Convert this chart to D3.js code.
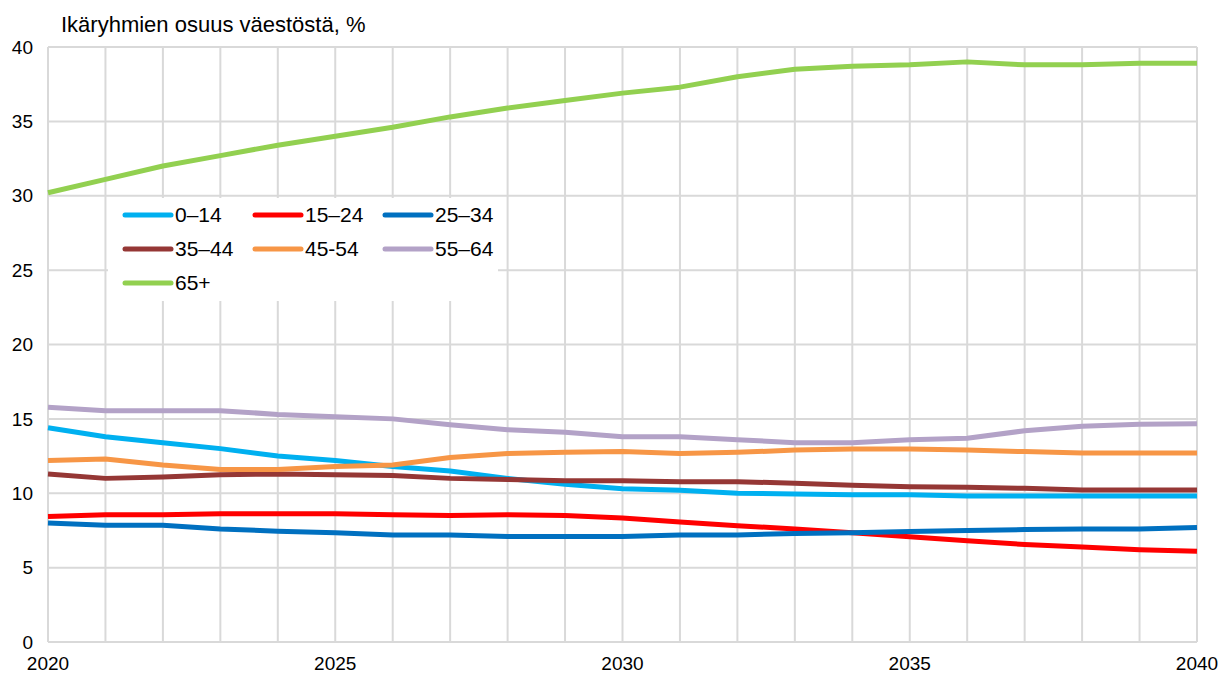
<!DOCTYPE html>
<meta charset="utf-8">
<style>
  body { margin: 0; background: #fff; }
  text { font-family: "Liberation Sans", Arial, sans-serif; fill: #000; }
</style>

<!-- Load d3.js -->
<script src="https://d3js.org/d3.v7.min.js"></script>

<div id="my_dataviz"></div>

<script>

// years on the x axis
var years = d3.range(2020, 2041);

// share of population by age group, %
var age0_14  = [14.4, 13.8, 13.4, 13.0, 12.5, 12.2, 11.8, 11.5, 11.0, 10.6, 10.3, 10.2, 10.0, 9.95, 9.9, 9.9, 9.82, 9.82, 9.82, 9.82, 9.82];
var age15_24 = [8.44, 8.56, 8.56, 8.62, 8.62, 8.62, 8.56, 8.5, 8.56, 8.5, 8.33, 8.07, 7.82, 7.6, 7.35, 7.07, 6.8, 6.56, 6.38, 6.2, 6.1];
var age25_34 = [8.0, 7.85, 7.85, 7.6, 7.45, 7.35, 7.2, 7.2, 7.1, 7.1, 7.1, 7.2, 7.2, 7.3, 7.35, 7.43, 7.5, 7.56, 7.6, 7.6, 7.7];
var age35_44 = [11.3, 11.0, 11.1, 11.25, 11.3, 11.25, 11.2, 11.0, 10.93, 10.84, 10.84, 10.78, 10.78, 10.67, 10.53, 10.44, 10.4, 10.33, 10.22, 10.22, 10.22];
var age45_54 = [12.2, 12.3, 11.9, 11.6, 11.6, 11.8, 11.9, 12.4, 12.67, 12.75, 12.8, 12.67, 12.75, 12.9, 12.98, 12.98, 12.9, 12.8, 12.7, 12.7, 12.7];
var age55_64 = [15.78, 15.55, 15.55, 15.55, 15.3, 15.15, 15.0, 14.6, 14.27, 14.1, 13.8, 13.8, 13.6, 13.4, 13.4, 13.6, 13.7, 14.2, 14.5, 14.64, 14.67];
var age65    = [30.2, 31.1, 32.0, 32.7, 33.4, 34.0, 34.6, 35.3, 35.9, 36.4, 36.9, 37.3, 38.0, 38.5, 38.7, 38.8, 39.0, 38.8, 38.8, 38.9, 38.9];

var seriesNames  = ["0–14", "15–24", "25–34", "35–44", "45-54", "55–64", "65+"];
var seriesValues = [age0_14, age15_24, age25_34, age35_44, age45_54, age55_64, age65];
var seriesColors = ["#00B0F0", "#FF0000", "#0070C0", "#953735", "#F79646", "#B3A2C7", "#92D050"];

var yTicks = [0, 5, 10, 15, 20, 25, 30, 35, 40];
var xTicks = [2020, 2025, 2030, 2035, 2040];

// set the dimensions and margins of the graph
var W = 1227, H = 677;
var margin = {top: 47, right: 30, bottom: 35, left: 48},
    width = W - margin.left - margin.right,
    height = H - margin.top - margin.bottom;

var svgRoot = d3.select("#my_dataviz")
  .append("svg")
    .attr("width", W)
    .attr("height", H);

// title
svgRoot.append("text")
  .attr("x", 61)
  .attr("y", 32)
  .style("font-size", "22px")
  .text("Ikäryhmien osuus väestöstä, %");

var svg = svgRoot.append("g")
  .attr("transform", "translate(" + margin.left + "," + margin.top + ")");

var x = d3.scaleLinear().domain([2020, 2040]).range([0, width]);
var y = d3.scaleLinear().domain([0, 40]).range([height, 0]);

// grid
svg.append("g").selectAll("line.v")
  .data(years)
  .enter().append("line")
    .attr("x1", function(d){ return x(d); })
    .attr("x2", function(d){ return x(d); })
    .attr("y1", 0).attr("y2", height)
    .style("stroke", "#d9d9d9").style("stroke-width", 2);

svg.append("g").selectAll("line.h")
  .data(yTicks)
  .enter().append("line")
    .attr("x1", 0).attr("x2", width)
    .attr("y1", function(d){ return y(d); })
    .attr("y2", function(d){ return y(d); })
    .style("stroke", "#d9d9d9").style("stroke-width", 2);

// y labels
svg.append("g").selectAll("text")
  .data(yTicks)
  .enter().append("text")
    .attr("x", -15)
    .attr("y", function(d){ return y(d); })
    .attr("dy", "0.35em")
    .attr("text-anchor", "end")
    .style("font-size", "19px")
    .text(function(d){ return d; });

// x labels
svg.append("g").selectAll("text")
  .data(xTicks)
  .enter().append("text")
    .attr("x", function(d){ return x(d); })
    .attr("y", height + 28)
    .attr("text-anchor", "middle")
    .style("font-size", "19px")
    .text(function(d){ return d; });

// legend background (covers grid)
var lg = svg.append("g").attr("transform", "translate(60,151)");
lg.append("rect")
  .attr("width", 390).attr("height", 103)
  .style("fill", "#fff");

// lines
var line = d3.line()
  .x(function(d, i){ return x(years[i]); })
  .y(function(d){ return y(d); });

svg.append("g").selectAll("path")
  .data(seriesValues)
  .enter().append("path")
    .attr("d", function(d){ return line(d); })
    .style("fill", "none")
    .style("stroke", function(d, i){ return seriesColors[i]; })
    .style("stroke-width", 5)
    .style("stroke-linejoin", "round");

// legend items
var item = lg.selectAll("g.item")
  .data(seriesNames)
  .enter().append("g")
    .attr("transform", function(d, i){
      return "translate(" + (17 + (i % 3) * 130) + "," + (17 + Math.floor(i / 3) * 34) + ")";
    });

item.append("line")
  .attr("x1", 0).attr("x2", 46)
  .style("stroke", function(d, i){ return seriesColors[i]; })
  .style("stroke-width", 5)
  .style("stroke-linecap", "round");

item.append("text")
  .attr("x", 50)
  .attr("dy", "0.35em")
  .style("font-size", "21px")
  .text(function(d){ return d; });

</script>
